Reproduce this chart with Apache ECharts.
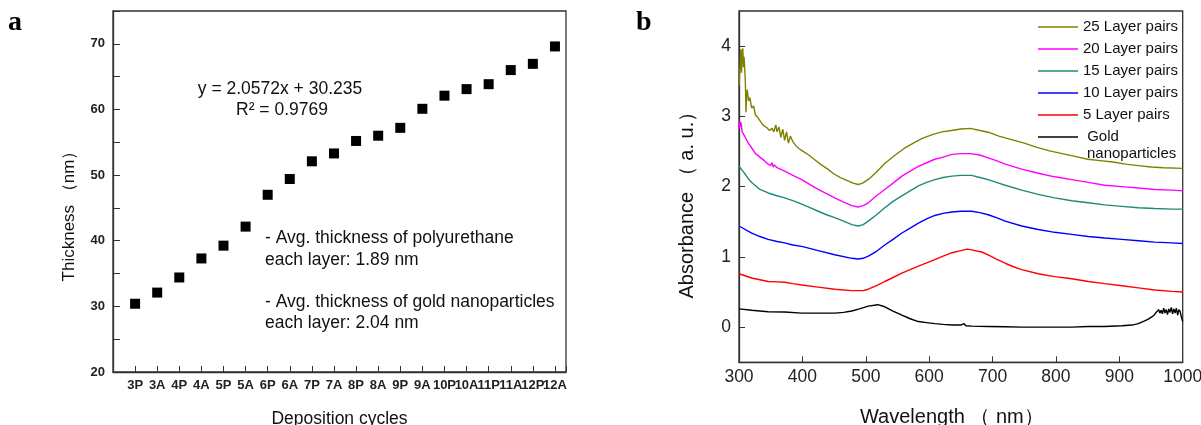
<!DOCTYPE html>
<html><head><meta charset="utf-8">
<script src="https://cdn.jsdelivr.net/npm/echarts@6/dist/echarts.min.js"></script>
<style>html,body{margin:0;padding:0;background:#fff}#c{width:1201px;height:425px}</style>
</head><body><div id="c"></div>
<script>
// ---------- Panel a data ----------
const categories = ['3P','3A','4P','4A','5P','5A','6P','6A','7P','7A','8P','8A','9P','9A','10P','10A','11P','11A','12P','12A'];
const thickness = [30.4, 32.1, 34.4, 37.3, 39.25, 42.15, 47.0, 49.4, 52.1, 53.3, 55.2, 56.0, 57.2, 60.1, 62.1, 63.1, 63.85, 66.0, 66.95, 69.6];
const thicknessTicks = [20, 30, 40, 50, 60, 70];
const fitText = ['y = 2.0572x + 30.235', 'R² = 0.9769'];
const noteText = ['- Avg. thickness of polyurethane', 'each layer: 1.89 nm', '- Avg. thickness of gold nanoparticles', 'each layer: 2.04 nm'];

// ---------- Panel b data ----------
const absorbanceTicks = [0, 1, 2, 3, 4];
const seriesNames = ['25 Layer pairs', '20 Layer pairs', '15 Layer pairs', '10 Layer pairs', '5 Layer pairs', 'Gold nanoparticles'];
const layer25 = [[300,3.44],[302,3.75],[303,3.96],[304,3.62],[305,3.9],[306,3.97],[307,3.7],[308,3.85],[310,3.5],[311,3.06],[312,3.3],[313,3.38],[315,3.22],[317,3.27],[320,3.12],[323,3.15],[326,3.02],[330,2.98],[333,2.94],[336,2.9],[340,2.86],[344,2.84],[348,2.8],[352,2.83],[355,2.78],[358,2.88],[360,2.78],[363,2.85],[366,2.7],[369,2.82],[372,2.66],[375,2.78],[378,2.62],[381,2.72],[385,2.64],[390,2.58],[395,2.54],[400,2.51],[410,2.45],[420,2.38],[430,2.31],[440,2.25],[450,2.18],[460,2.13],[470,2.09],[480,2.05],[488,2.03],[495,2.05],[505,2.11],[515,2.19],[530,2.33],[545,2.44],[560,2.54],[575,2.62],[590,2.69],[605,2.74],[620,2.78],[635,2.8],[650,2.82],[665,2.83],[680,2.8],[695,2.77],[710,2.72],[730,2.67],[750,2.62],[770,2.56],[790,2.51],[810,2.47],[830,2.43],[850,2.39],[870,2.37],[890,2.35],[910,2.32],[930,2.3],[950,2.28],[970,2.27],[1000,2.26]];
const layer20 = [[300,2.82],[301,2.93],[302,2.85],[303,2.92],[305,2.78],[307,2.8],[310,2.7],[314,2.63],[320,2.55],[326,2.47],[333,2.42],[340,2.37],[346,2.32],[350,2.3],[352,2.34],[354,2.28],[356,2.31],[360,2.27],[372,2.22],[385,2.16],[399,2.1],[412,2.03],[425,1.96],[438,1.9],[451,1.84],[465,1.78],[478,1.73],[488,1.71],[496,1.73],[504,1.77],[517,1.87],[530,1.96],[543,2.05],[557,2.15],[570,2.22],[583,2.29],[596,2.34],[609,2.39],[622,2.42],[636,2.46],[650,2.47],[665,2.47],[680,2.45],[693,2.41],[706,2.37],[720,2.32],[746,2.25],[772,2.19],[798,2.14],[825,2.1],[851,2.06],[877,2.02],[904,2.0],[930,1.98],[956,1.96],[983,1.95],[1000,1.94]];
const layer15 = [[300,2.29],[303,2.29],[308,2.2],[314,2.12],[320,2.06],[333,1.96],[346,1.91],[360,1.87],[372,1.84],[385,1.8],[399,1.75],[412,1.7],[425,1.65],[438,1.6],[451,1.56],[465,1.51],[478,1.46],[488,1.44],[496,1.46],[504,1.51],[517,1.6],[530,1.7],[543,1.79],[557,1.87],[570,1.94],[583,2.01],[596,2.06],[609,2.1],[622,2.13],[636,2.15],[650,2.16],[667,2.16],[680,2.13],[693,2.1],[706,2.06],[720,2.02],[746,1.95],[772,1.89],[798,1.84],[825,1.8],[851,1.77],[877,1.74],[904,1.72],[930,1.7],[956,1.69],[983,1.68],[1000,1.68]];
const layer10 = [[300,1.44],[320,1.34],[333,1.29],[346,1.25],[360,1.22],[372,1.2],[385,1.17],[399,1.15],[425,1.09],[451,1.03],[478,0.98],[488,0.97],[496,0.98],[504,1.01],[517,1.08],[530,1.17],[543,1.25],[557,1.34],[570,1.41],[583,1.48],[596,1.54],[609,1.59],[622,1.62],[636,1.64],[650,1.65],[667,1.65],[680,1.63],[693,1.6],[706,1.56],[720,1.51],[746,1.44],[772,1.39],[798,1.35],[825,1.32],[851,1.29],[877,1.27],[904,1.25],[930,1.23],[956,1.21],[983,1.2],[1000,1.19]];
const layer5 = [[300,0.76],[320,0.7],[346,0.65],[360,0.645],[372,0.64],[385,0.62],[399,0.6],[425,0.57],[451,0.54],[478,0.52],[488,0.52],[496,0.52],[504,0.54],[517,0.59],[530,0.65],[557,0.77],[583,0.87],[609,0.96],[622,1.01],[636,1.06],[650,1.09],[660,1.11],[667,1.1],[683,1.07],[693,1.03],[706,0.97],[720,0.91],[733,0.86],[746,0.82],[772,0.76],[798,0.72],[825,0.69],[851,0.65],[877,0.62],[904,0.59],[930,0.56],[956,0.53],[983,0.51],[1000,0.5]];
const goldNP = [[300,0.26],[320,0.24],[346,0.22],[372,0.215],[399,0.2],[425,0.2],[451,0.2],[465,0.21],[478,0.23],[490,0.26],[504,0.3],[519,0.32],[530,0.29],[543,0.23],[557,0.17],[570,0.12],[583,0.08],[596,0.065],[609,0.05],[622,0.04],[636,0.03],[650,0.03],[655,0.05],[658,0.02],[667,0.015],[693,0.01],[720,0.005],[746,0.0],[772,0.0],[798,0.0],[825,0.0],[851,0.01],[877,0.01],[904,0.02],[920,0.03],[930,0.05],[940,0.09],[945,0.11],[950,0.14],[955,0.17],[958,0.21],[960,0.19],[962,0.25],[964,0.2],[966,0.24],[968,0.19],[970,0.27],[972,0.2],[974,0.25],[976,0.18],[978,0.26],[980,0.21],[982,0.28],[984,0.19],[986,0.26],[988,0.2],[990,0.27],[992,0.17],[994,0.25],[996,0.22],[998,0.14],[1000,0.08]];
const spectra = [layer25, layer20, layer15, layer10, layer5, goldNP];
const seriesColors = ['#808000', '#ff00ff', '#1f8a7a', '#0000ff', '#ff0000', '#000000'];

const SANS = 'Liberation Sans, Arial, sans-serif';
const SERIF = 'Liberation Serif, Times New Roman, serif';
const AX = '#333';

const chart = echarts.init(document.getElementById('c'), null, {renderer: 'canvas'});
chart.setOption({
  animation: false,
  backgroundColor: '#fff',
  grid: [
    {left: 113, top: 11, width: 453, height: 361, containLabel: false, outerBoundsMode: 'none', show: true, borderColor: AX, borderWidth: 1.3, backgroundColor: 'transparent'},
    {left: 739, top: 11, width: 443.7, height: 351.3, containLabel: false, outerBoundsMode: 'none', show: true, borderColor: AX, borderWidth: 1.3, backgroundColor: 'transparent'}
  ],
  xAxis: [
    {
      gridIndex: 0, type: 'value', min: 0, max: 20.5, interval: 1,
      name: 'Deposition cycles', nameLocation: 'middle', nameGap: 38,
      nameTextStyle: {fontFamily: SANS, fontSize: 17.5, color: '#111'},
      axisLine: {onZero: false, lineStyle: {color: AX, width: 1.3}},
      axisTick: {inside: true, length: 6, lineStyle: {color: AX}},
      axisLabel: {interval: 0, margin: 7, fontFamily: SANS, fontSize: 13, fontWeight: 'bold', color: '#222',
        formatter: v => categories[v - 1] || ''},
      splitLine: {show: false}
    },
    {
      gridIndex: 1, type: 'value', min: 300, max: 1000, interval: 100,
      name: 'Wavelength （ nm）', nameLocation: 'middle', nameGap: 45,
      nameTextStyle: {fontFamily: SANS, fontSize: 20, color: '#111', padding: [0, 18, 0, 0]},
      axisLine: {onZero: false, lineStyle: {color: AX, width: 1.3}},
      axisTick: {inside: true, length: 6, lineStyle: {color: AX}},
      axisLabel: {margin: 6, fontFamily: SANS, fontSize: 17.5, color: '#222', formatter: v => String(v)},
      splitLine: {show: false}
    }
  ],
  yAxis: [
    {
      gridIndex: 0, type: 'value', min: 20, max: 75, interval: 10,
      name: 'Thickness （nm）', nameLocation: 'middle', nameGap: 35,
      nameTextStyle: {fontFamily: SANS, fontSize: 17, color: '#111', padding: [0, 41, 0, 0]},
      axisLine: {onZero: false, lineStyle: {color: AX, width: 1.3}},
      axisTick: {inside: true, length: 7, lineStyle: {color: AX}},
      minorTick: {show: true, splitNumber: 2, length: 7, lineStyle: {color: AX}},
      axisLabel: {margin: 8, customValues: thicknessTicks, fontFamily: SANS, fontSize: 13, fontWeight: 'bold', color: '#222'},
      splitLine: {show: false}, minorSplitLine: {show: false}
    },
    {
      gridIndex: 1, type: 'value', min: -0.5, max: 4.5,
      name: 'Absorbance （ a. u.）', nameLocation: 'middle', nameGap: 42,
      nameTextStyle: {fontFamily: SANS, fontSize: 20, color: '#111', padding: [0, 27, 0, 0]},
      axisLine: {onZero: false, lineStyle: {color: AX, width: 1.3}},
      axisTick: {inside: true, length: 6, customValues: absorbanceTicks, lineStyle: {color: AX}},
      axisLabel: {margin: 8, customValues: absorbanceTicks, fontFamily: SANS, fontSize: 17.5, color: '#222'},
      splitLine: {show: false}
    }
  ],
  legend: {
    orient: 'vertical', left: 1038, top: 16, padding: 0, itemGap: 0,
    itemWidth: 40, itemHeight: 1.6, icon: 'rect',
    data: seriesNames,
    formatter: n => n === 'Gold nanoparticles' ? ' Gold' : n,
    textStyle: {fontFamily: SANS, fontSize: 15, lineHeight: 22, color: '#111'}
  },
  graphic: [
    {type: 'text', left: 8, top: 9, style: {text: 'a', font: 'bold 28px ' + SERIF, fill: '#000'}},
    {type: 'text', left: 636, top: 9, style: {text: 'b', font: 'bold 28px ' + SERIF, fill: '#000'}},
    {type: 'text', x: 280, y: 89, style: {text: fitText[0], font: '17.5px ' + SANS, fill: '#111', align: 'center', verticalAlign: 'middle'}},
    {type: 'text', x: 282, y: 110, style: {text: fitText[1], font: '17.5px ' + SANS, fill: '#111', align: 'center', verticalAlign: 'middle'}},
    {type: 'text', x: 265, y: 238, style: {text: noteText[0], font: '17.5px ' + SANS, fill: '#111', verticalAlign: 'middle'}},
    {type: 'text', x: 265, y: 260, style: {text: noteText[1], font: '17.5px ' + SANS, fill: '#111', verticalAlign: 'middle'}},
    {type: 'text', x: 265, y: 302, style: {text: noteText[2], font: '17.5px ' + SANS, fill: '#111', verticalAlign: 'middle'}},
    {type: 'text', x: 265, y: 323, style: {text: noteText[3], font: '17.5px ' + SANS, fill: '#111', verticalAlign: 'middle'}},
    {type: 'text', x: 1087, y: 154, style: {text: 'nanoparticles', font: '15px ' + SANS, fill: '#111', verticalAlign: 'middle'}}
  ],
  series: [
    {
      type: 'scatter', xAxisIndex: 0, yAxisIndex: 0, symbol: 'rect', symbolSize: 10,
      itemStyle: {color: '#000', opacity: 1}, silent: true,
      data: thickness.map((v, i) => [i + 1, v])
    }
  ].concat(spectra.map((d, i) => ({
    type: 'line', name: seriesNames[i], xAxisIndex: 1, yAxisIndex: 1,
    showSymbol: false, symbol: 'none', silent: true,
    lineStyle: {color: seriesColors[i], width: 1.4},
    itemStyle: {color: seriesColors[i]},
    data: d
  })))
});
</script>
</body></html>
